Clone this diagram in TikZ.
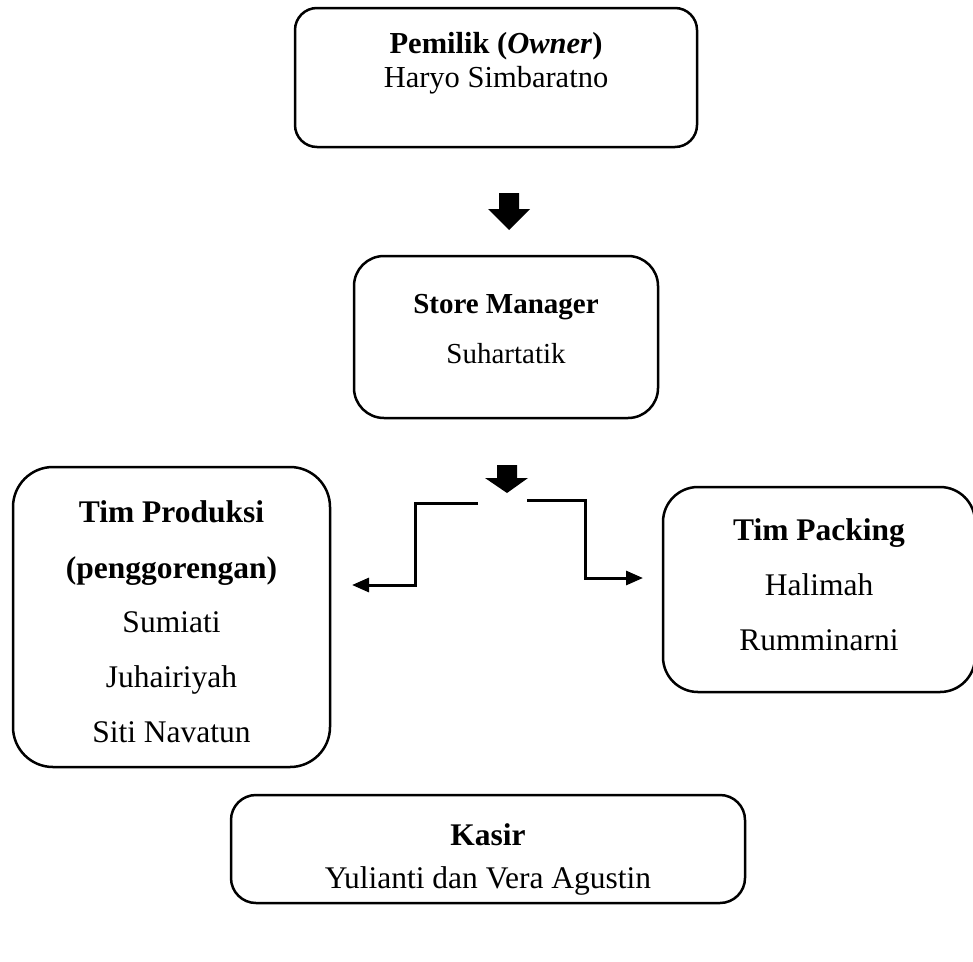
\documentclass[tikz,border=0pt]{standalone}
\usepackage{fontspec}
\setmainfont{Liberation Serif}
\usetikzlibrary{arrows.meta}
\tikzset{
  orgbox/.style={draw=black, line width=2.5pt, rounded corners=#1, inner sep=0pt},
  orgbox/.default=25pt,
  lblA/.style={anchor=base, inner sep=0pt, font=\fontsize{30.5}{36}\selectfont},
  lblB/.style={anchor=base, inner sep=0pt, font=\fontsize{29}{35}\selectfont},
  lblC/.style={anchor=base, inner sep=0pt, font=\fontsize{31.5}{38}\selectfont},
  blockarrow/.style={fill=black},
  elbow/.style={line width=3pt, -{Triangle[length=17pt,width=14pt]}}
}
\begin{document}
\begin{tikzpicture}[x=1pt,y=-1pt]
\useasboundingbox (0,0) rectangle (973,961);
% boxes
\node[orgbox=22pt, minimum width=402pt, minimum height=139pt] (owner) at (496,77.5) {};
\node[orgbox=30pt, minimum width=304pt, minimum height=162pt] (sm) at (506,337) {};
\node[orgbox=40pt, minimum width=317pt, minimum height=300pt] (prod) at (171.5,617) {};
\node[orgbox=35pt, minimum width=312pt, minimum height=205pt] (pack) at (819,589.5) {};
\node[orgbox=25pt, minimum width=514pt, minimum height=108pt] (kasir) at (488,849) {};
% texts
\node[lblA] (t1) at (496,53) {\bfseries Pemilik (\textit{Owner})};
\node[lblA] (t2) at (496,87) {Haryo Simbaratno};
\node[lblB] (t3) at (506,313) {\bfseries Store Manager};
\node[lblB] (t4) at (506,363) {Suhartatik};
\node[lblC] (t5) at (171.5,522) {\bfseries Tim Produksi};
\node[lblC] (t6) at (171.5,578) {\bfseries (penggorengan)};
\node[lblC] (t7) at (171.5,632) {Sumiati};
\node[lblC] (t8) at (171.5,687) {Juhairiyah};
\node[lblC] (t9) at (171.5,742) {Siti Navatun};
\node[lblC] (t10) at (819,540) {\bfseries Tim Packing};
\node[lblC] (t11) at (819,595) {Halimah};
\node[lblC] (t12) at (819,650) {Rumminarni};
\node[lblC] (t13) at (488,845) {\bfseries Kasir};
\node[lblC] (t14) at (488,888) {Yulianti dan Vera Agustin};
% block arrows
\fill[blockarrow] (499,193) -- (519,193) -- (519,209) -- (530,209) -- (509,230) -- (488,209) -- (499,209) -- cycle;
\fill[blockarrow] (497,465) -- (517,465) -- (517,478) -- (528,478) -- (507,493) -- (485,478) -- (497,478) -- cycle;
% elbow connectors
\coordinate (ls) at (478,503);
\coordinate (le) at (352,585);
\coordinate (rs) at (527,500);
\coordinate (re) at (643,578);
\draw[elbow] (ls) -- (415,503) -- (415,585) -- (le);
\draw[elbow] (rs) -- (585,500) -- (585,578) -- (re);
\end{tikzpicture}
\end{document}
